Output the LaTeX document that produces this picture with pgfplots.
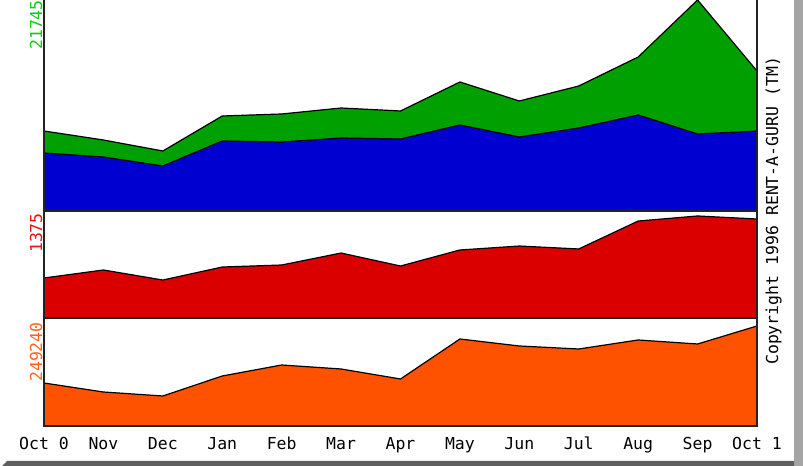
\documentclass[border=0pt]{standalone}
\usepackage{fontspec}
\setmainfont{DejaVu Sans Mono}
\usepackage{pgfplots}
\pgfplotsset{compat=1.18}
\usepackage{pgfplotstable}
\definecolor{cgreen}{RGB}{0,160,0}
\definecolor{cblue}{RGB}{0,0,208}
\definecolor{cred}{RGB}{218,0,0}
\definecolor{corange}{RGB}{255,82,0}
\definecolor{lgreen}{RGB}{20,200,20}
\definecolor{lred}{RGB}{235,20,20}
\definecolor{lorange}{RGB}{255,100,30}
\definecolor{shlight}{RGB}{165,165,165}
\definecolor{shdark}{RGB}{95,95,95}
\definecolor{border}{RGB}{35,35,35}

\pgfplotstableread{
m total blue
0 8245 5977
1 7317 5565
2 6184 4638
3 9791 7214
4 9997 7111
5 10615 7523
6 10306 7420
7 13295 8863
8 11337 7626
9 12883 8554
10 15871 9894
11 21745 7936
12 14428 8245
}\toptable

\pgfplotstableread{
m val
0 514
1 617
2 488
3 655
4 681
5 835
6 668
7 874
8 925
9 887
10 1246
11 1311
12 1272
}\midtable

\pgfplotstableread{
m val
0 99240
1 78470
2 69240
3 115400
4 140790
5 131560
6 108480
7 200800
8 184640
9 177720
10 198490
11 189260
12 230800
}\bottable

\begin{document}
\begin{tikzpicture}
\useasboundingbox (0bp,0bp) rectangle (803bp,466bp);
\fill[white] (0bp,0bp) rectangle (803bp,466bp);
\fill[shlight] (794bp,0bp) rectangle (803bp,466bp);
\fill[shdark] (2bp,0bp) -- (7bp,5bp) -- (794bp,5bp) -- (794bp,0bp) -- cycle;

\pgfplotsset{panel/.style={scale only axis, width=713bp, xmin=0, xmax=12, ymin=0,
  clip=false, anchor=south west}}

\begin{axis}[panel, hide axis, at={(44bp,255bp)}, height=211bp, ymax=21745]
\addplot[fill=cgreen, draw=none] table[x=m,y=total]{\toptable} \closedcycle;
\addplot[fill=cblue, draw=none] table[x=m,y=blue]{\toptable} \closedcycle;
\addplot[black, line width=1.2bp] table[x=m,y=total]{\toptable};
\addplot[black, line width=1.2bp] table[x=m,y=blue]{\toptable};
\end{axis}

\begin{axis}[panel, hide axis, at={(44bp,148bp)}, height=107bp, ymax=1375]
\addplot[fill=cred, draw=none] table[x=m,y=val]{\midtable} \closedcycle;
\addplot[black, line width=1.2bp] table[x=m,y=val]{\midtable};
\end{axis}

\begin{axis}[panel, at={(44bp,40bp)}, height=108bp, ymax=249240,
  axis line style={draw=none}, ytick=\empty, xtick={0,...,12},
  major tick length=0pt,
  xticklabels={Oct 0,Nov,Dec,Jan,Feb,Mar,Apr,May,Jun,Jul,Aug,Sep,Oct 1},
  xticklabel style={anchor=base, yshift=-23bp, inner sep=0pt, font=\fontsize{16.5bp}{20bp}\selectfont}]
\addplot[fill=corange, draw=none] table[x=m,y=val]{\bottable} \closedcycle;
\addplot[black, line width=1.2bp] table[x=m,y=val]{\bottable};
\end{axis}

\draw[border, line width=1.6bp] (44bp,466bp) -- (44bp,40bp) -- (757bp,40bp) -- (757bp,466bp);
\draw[border, line width=1.6bp] (44bp,255bp) -- (757bp,255bp);
\draw[border, line width=1.6bp] (44bp,148bp) -- (757bp,148bp);

\begin{scope}[every node/.style={inner sep=0pt, font=\fontsize{16.5bp}{20bp}\selectfont}]
\node[rotate=90, anchor=base east, text=lgreen] at (42bp,466bp) {21745};
\node[rotate=90, anchor=base east, text=lred] at (42bp,253bp) {1375};
\node[rotate=90, anchor=base east, text=lorange] at (42bp,144bp) {249240};
\node[rotate=90, anchor=base west, text=black] at (778bp,101bp) {Copyright 1996 RENT-A-GURU (TM)};
\end{scope}
\end{tikzpicture}
\end{document}
